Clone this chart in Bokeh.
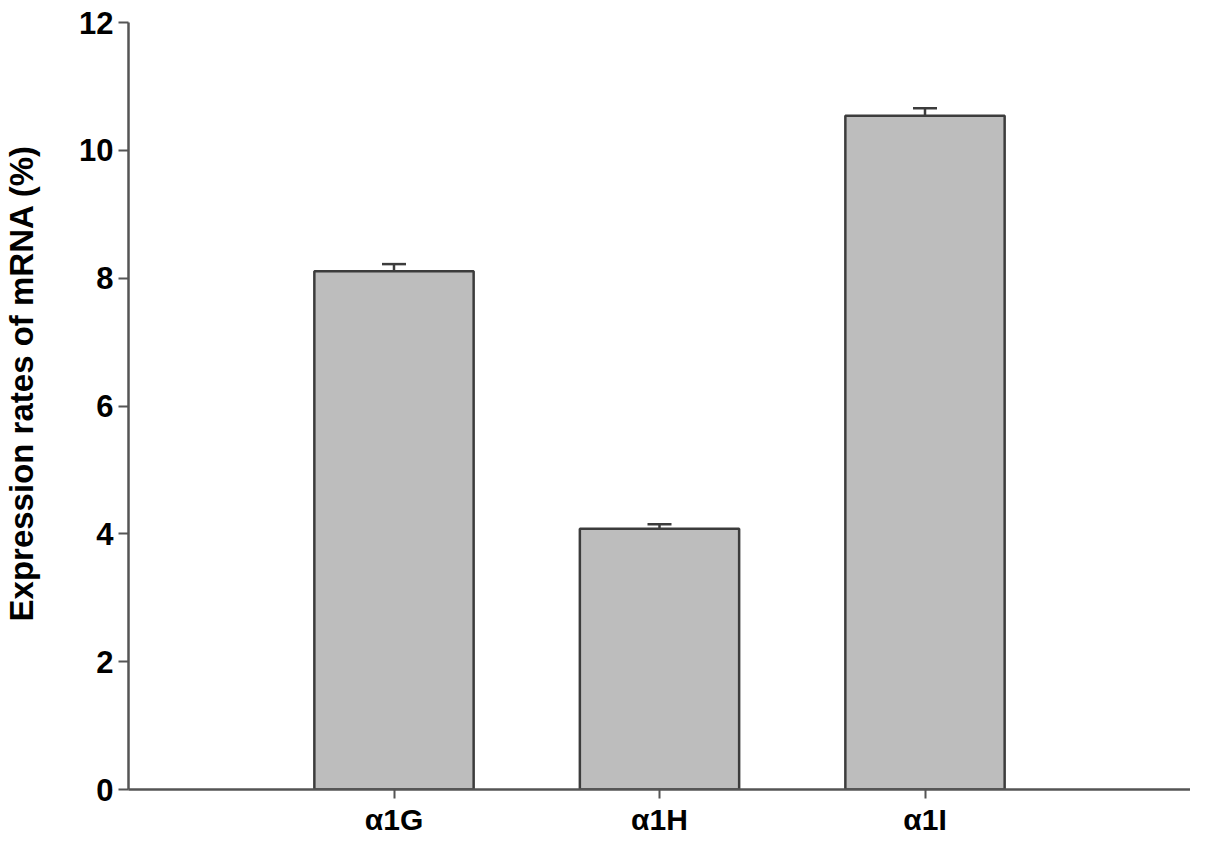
from bokeh.plotting import figure
from bokeh.models import ColumnDataSource, Range1d, FixedTicker, Whisker, TeeHead
from bokeh.embed import file_html
from bokeh.resources import INLINE

categories = ["α1G", "α1H", "α1I"]
positions = [1, 2, 3]
values = [8.11, 4.08, 10.54]
errors = [0.11, 0.07, 0.12]
y_ticks = [0, 2, 4, 6, 8, 10, 12]

src = ColumnDataSource(dict(
    x=positions,
    top=values,
    upper=[v + e for v, e in zip(values, errors)],
))

p = figure(width=1190, height=840, output_backend="svg", toolbar_location=None,
           x_range=Range1d(0, 4), y_range=Range1d(0, 12),
           min_border_left=128, min_border_right=0, min_border_top=22, min_border_bottom=51)
p.outline_line_color = None
p.xgrid.grid_line_color = None
p.ygrid.grid_line_color = None
p.background_fill_color = "white"

p.vbar(x="x", top="top", bottom=0, width=0.6, source=src,
       fill_color="#bdbdbd", line_color="#3c3c3c", line_width=2.5)

w = Whisker(base="x", lower="top", upper="upper", source=src,
            line_color="#3c3c3c", line_width=2.5,
            upper_head=TeeHead(size=24, line_color="#3c3c3c", line_width=2.5),
            lower_head=None)
p.add_layout(w)

font = "Liberation Sans"
ax = p.xaxis[0]
ax.ticker = FixedTicker(ticks=positions)
ax.major_label_overrides = {pos: c for pos, c in zip(positions, categories)}
ax.major_label_text_font = font
ax.major_label_text_font_style = "bold"
ax.major_label_text_font_size = "30px"
ax.major_label_text_color = "black"
ax.major_label_standoff = 4
ax.axis_line_color = "#555555"
ax.axis_line_width = 2.5
ax.major_tick_line_color = "#555555"
ax.major_tick_line_width = 2
ax.major_tick_out = 9
ax.major_tick_in = 0
ax.minor_tick_line_color = None

ay = p.yaxis[0]
ay.ticker = FixedTicker(ticks=y_ticks)
ay.major_label_text_font = font
ay.major_label_text_font_style = "bold"
ay.major_label_text_font_size = "31px"
ay.major_label_text_color = "black"
ay.major_label_standoff = 5
ay.axis_line_color = "#555555"
ay.axis_line_width = 2.5
ay.major_tick_line_color = "#555555"
ay.major_tick_line_width = 2
ay.major_tick_out = 10
ay.major_tick_in = 0
ay.minor_tick_line_color = None
ay.axis_label = "\u00a0\u00a0\u00a0\u00a0\u00a0Expression rates of mRNA (%)"
ay.axis_label_text_font = font
ay.axis_label_text_font_style = "bold"
ay.axis_label_text_font_size = "33px"
ay.axis_label_text_color = "black"
ay.axis_label_standoff = 36

open("out.html", "w").write(file_html(p, INLINE))
